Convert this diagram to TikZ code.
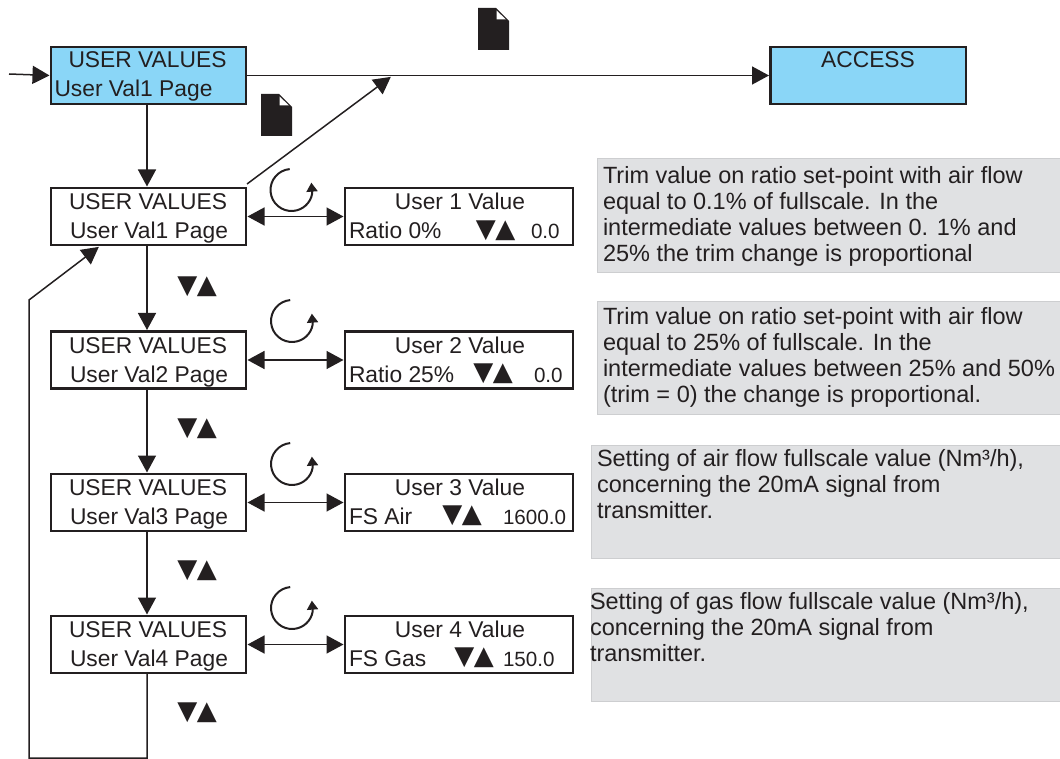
\documentclass[tikz,border=0pt]{standalone}
\usepackage{fontspec}
\setmainfont{Liberation Sans}
\newfontfamily\symfont{DejaVu Sans}
\usetikzlibrary{arrows.meta}
\definecolor{lcdblue}{HTML}{8AD6F7}
\definecolor{notegray}{HTML}{E0E1E3}
\definecolor{noteedge}{HTML}{CDCED0}
\definecolor{ink}{HTML}{231F20}
\newcommand{\ud}{{\symfont\fontsize{26}{26}\selectfont ▼\hspace{-0.5pt}▲}}
\tikzset{
  x=1pt,y=-1pt,
  every node/.style={text=ink,inner sep=0pt,outer sep=0pt},
  boxa/.style={draw=ink,line width=2.9pt,minimum height=57pt,anchor=north west},
  lcd/.style={boxa,minimum width=195pt},
  val/.style={boxa,minimum width=228pt},
  note/.style={fill=notegray,draw=noteedge,line width=1pt,anchor=north west},
  txt/.style={font=\fontsize{22.8}{26}\selectfont,anchor=base},
  txtl/.style={font=\fontsize{22.8}{26}\selectfont,anchor=base west},
  small/.style={font=\fontsize{20.6}{24}\selectfont,anchor=base west},
  notetxt/.style={font=\fontsize{23.5}{26}\selectfont,anchor=north west,align=left},
  ud/.style={anchor=center},
  conn/.style={draw=ink,line width=1.5pt},
  arr/.style={conn,shorten >=1.5pt,-{Triangle[length=17pt,width=18pt,fill=ink]}},
  darr/.style={conn,shorten >=1.5pt,shorten <=1.5pt,{Triangle[length=17pt,width=18pt,fill=ink]}-{Triangle[length=17pt,width=18pt,fill=ink]}},
  doc/.style={fill=ink},
  turn/.style={draw=ink,line width=2pt,-{Triangle[length=9pt,width=11pt,fill=ink]}}
}
\begin{document}
\begin{tikzpicture}
\useasboundingbox (0,0) rectangle (1060,759);
% notes
\node[note,minimum width=463pt,minimum height=114pt] (n1) at (597,159) {};
\node[note,minimum width=463pt,minimum height=112pt] (n2) at (597,302) {};
\node[note,minimum width=469pt,minimum height=113pt] (n3) at (591,445) {};
\node[note,minimum width=469pt,minimum height=113pt] (n4) at (591,588) {};
\node[notetxt] at (603,166) {Trim value on ratio set-point with air flow\\equal to 0.1\% of fullscale. In the\\intermediate values between 0. 1\% and\\25\% the trim change is proportional};
\node[notetxt] at (603,307) {Trim value on ratio set-point with air flow\\equal to 25\% of fullscale. In the\\intermediate values between 25\% and 50\%\\(trim = 0) the change is proportional.};
\node[notetxt] at (597,449) {Setting of air flow fullscale value (Nm³/h),\\concerning the 20mA signal from\\transmitter.};
\node[notetxt] at (590,592.5) {Setting of gas flow fullscale value (Nm³/h),\\concerning the 20mA signal from\\transmitter.};
% main boxes
\node[lcd,fill=lcdblue] (top) at (51,47) {};
\node[lcd,fill=lcdblue,minimum width=195.5pt] (acc) at (770.5,47) {};
\node[lcd] (u1) at (51,188) {};
\node[lcd] (u2) at (51,331.5) {};
\node[lcd] (u3) at (51,474) {};
\node[lcd] (u4) at (51,616) {};
\node[val] (v1) at (345,188) {};
\node[val] (v2) at (345,331.5) {};
\node[val] (v3) at (345,474) {};
\node[val] (v4) at (345,616) {};
% box texts
\node[txt] at (147.5,68) {USER VALUES};
\node[txtl] at (54.5,97) {User Val1 Page};
\node[txt] at (868,68) {ACCESS};
\foreach \y/\n in {210/1,353/2,495/3,637/4}{
  \node[txt] at (148,\y) {USER VALUES};
  \node[txt] at (149,\y+29) {User Val\n{} Page};
  \node[txt] at (460,\y) {User \n{} Value};
}
\node[txtl] at (349,239) {Ratio 0\%};
\node[txtl] at (349,382) {Ratio 25\%};
\node[txtl] at (349,524) {FS Air};
\node[txtl] at (349,666) {FS Gas};
\node[small] at (531,239) {0.0};
\node[small] at (534,382) {0.0};
\node[small] at (503,524) {1600.0};
\node[small] at (503,666) {150.0};
\node[ud] (a1) at (495.5,231) {\ud};
\node[ud] (a2) at (493,374) {\ud};
\node[ud] (a3) at (462,516) {\ud};
\node[ud] (a4) at (474,658) {\ud};
\node[ud] (b1) at (197,287) {\ud};
\node[ud] (b2) at (197,429) {\ud};
\node[ud] (b3) at (197,571) {\ud};
\node[ud] (b4) at (197,713) {\ud};
% document icons
\foreach \x/\y in {478/8,261/94}{
  \fill[doc] (\x,\y) -- (\x+18,\y) -- (\x+31,\y+13) -- (\x+31,\y+42) -- (\x,\y+42) -- cycle;
  \fill[white] (\x+18.5,\y+2.5) -- (\x+18.5,\y+11.5) -- (\x+28,\y+11.5) -- cycle;
}
% connectors
\coordinate (in) at (9,74);
\coordinate (dtip) at (392,76);
\coordinate (dstart) at (247,184);
\coordinate (loopA) at (147,758);
\coordinate (loopB) at (29,758);
\coordinate (loopC) at (29,300);
\coordinate (loopD) at (100,246);
\draw[arr] (in) -- (top.west);
\draw[arr] (top.east) -- (acc.west);
\draw[arr] ([xshift=-1.5pt]top.south) -- ([xshift=-1.5pt]u1.north);
\draw[arr] (dstart) -- (dtip);
\draw[arr] ([xshift=-1.5pt]u1.south) -- ([xshift=-1.5pt]u2.north);
\draw[arr] ([xshift=-1.5pt]u2.south) -- ([xshift=-1.5pt]u3.north);
\draw[arr] ([xshift=-1.5pt]u3.south) -- ([xshift=-1.5pt]u4.north);
\draw[arr,line join=miter] ([xshift=-1.5pt]u4.south) -- (loopA) -- (loopB) -- (loopC) -- (loopD);
\draw[darr] (u1.east) -- (v1.west);
\draw[darr] (u2.east) -- (v2.west);
\draw[darr] (u3.east) -- (v3.west);
\draw[darr] (u4.east) -- (v4.west);
% rotation arrows
\foreach \x/\y in {291.5/190,292/321,292/464,292/608}{
  \draw[turn] (\x,\y) ++(-95:21) arc[start angle=-95,end angle=-350,radius=21] -- ++(-0.8,-11);
}
\end{tikzpicture}
\end{document}
